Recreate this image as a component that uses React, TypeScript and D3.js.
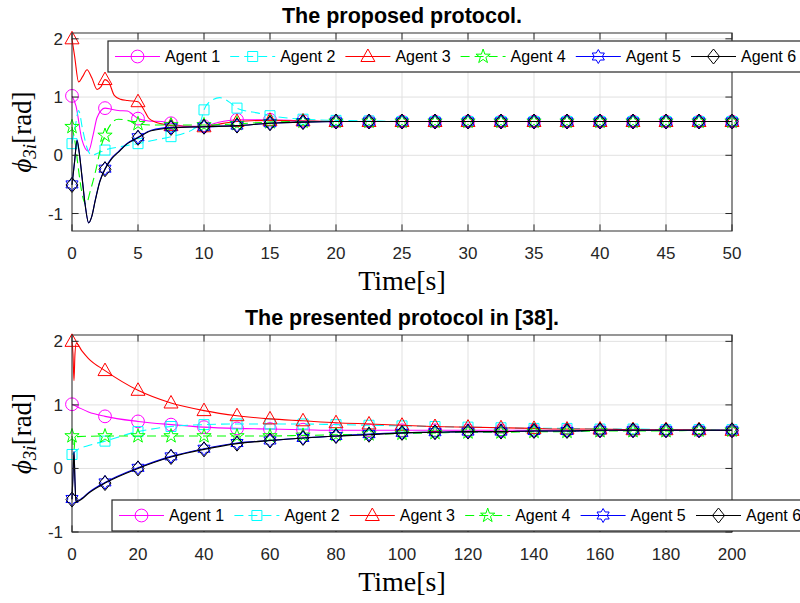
import React from 'react';
import * as d3 from 'd3';

type Pt = [number, number];

// ---- top panel: "The proposed protocol." (markers every 2.5 s)
const topT = [0, 2.5, 5, 7.5, 10, 12.5, 15, 17.5, 20, 22.5, 25, 27.5, 30, 32.5, 35, 37.5, 40, 42.5, 45, 47.5, 50];
const topA1 = [1.02, 0.81, 0.63, 0.55, 0.5, 0.61, 0.61, 0.59, 0.58, 0.58, 0.58, 0.58, 0.58, 0.58, 0.58, 0.58, 0.58, 0.58, 0.58, 0.58, 0.58];
const topA2 = [0.2, 0.09, 0.2, 0.32, 0.78, 0.81, 0.68, 0.62, 0.6, 0.59, 0.58, 0.58, 0.58, 0.58, 0.58, 0.58, 0.58, 0.58, 0.58, 0.58, 0.58];
const topA3 = [2.0, 1.3, 0.92, 0.51, 0.49, 0.58, 0.6, 0.59, 0.58, 0.58, 0.58, 0.58, 0.58, 0.58, 0.58, 0.58, 0.58, 0.58, 0.58, 0.58, 0.58];
const topA4 = [0.49, 0.34, 0.54, 0.52, 0.52, 0.54, 0.57, 0.58, 0.58, 0.58, 0.58, 0.58, 0.58, 0.58, 0.58, 0.58, 0.58, 0.58, 0.58, 0.58, 0.58];
const topA5 = [-0.5, -0.23, 0.31, 0.48, 0.49, 0.51, 0.55, 0.57, 0.58, 0.58, 0.58, 0.58, 0.58, 0.58, 0.58, 0.58, 0.58, 0.58, 0.58, 0.58, 0.58];
const topA6 = [-0.51, -0.24, 0.3, 0.47, 0.49, 0.51, 0.55, 0.57, 0.58, 0.58, 0.58, 0.58, 0.58, 0.58, 0.58, 0.58, 0.58, 0.58, 0.58, 0.58, 0.58];

// points in between the markers (transients)
const topA1Extra: Pt[] = [[0.3, 0.85], [0.75, 0.27], [1.25, 0.07], [1.6, 0.35], [1.9, 0.65], [3, 0.79], [3.5, 0.77], [4.2, 0.76], [4.6, 0.7], [5.8, 0.59], [6.8, 0.58], [8.5, 0.5], [11, 0.56]];
const topA2Extra: Pt[] = [[0.25, 0.5], [0.5, 0.77], [0.8, 0.45], [1.15, 0.12], [1.5, 0.0], [2, 0.04], [3.5, 0.14], [4.2, 0.17], [6, 0.25], [8.5, 0.38], [9.2, 0.45], [9.7, 0.55], [10.5, 0.93], [11.2, 0.99], [12, 0.9], [14.2, 0.72]];
const topA3Extra: Pt[] = [[0.2, 1.7], [0.5, 1.26], [0.8, 1.35], [1.14, 1.47], [1.5, 1.33], [1.9, 1.13], [2.2, 1.18], [2.8, 1.25], [3.2, 1.03], [3.7, 0.96], [4.2, 0.94], [5.4, 0.8], [5.8, 0.64], [6.3, 0.57], [6.8, 0.54], [8.5, 0.5], [11, 0.53]];
const topA4Extra: Pt[] = [[0.25, 0.2], [0.5, -0.26], [0.8, -0.7], [1.06, -0.84], [1.4, -0.6], [1.8, -0.26], [2.2, 0.15], [3, 0.55], [3.5, 0.62], [4.2, 0.6], [6, 0.52]];
const topA5Extra: Pt[] = [[0.2, -0.1], [0.38, 0.26], [0.55, 0.05], [0.76, -0.37], [1.0, -0.85], [1.26, -1.16], [1.5, -1.05], [1.76, -0.77], [2.1, -0.45], [3, -0.05], [3.5, 0.06], [4.2, 0.21], [6, 0.43]];
const topA6Extra: Pt[] = [[0.2, -0.1], [0.38, 0.25], [0.55, 0.04], [0.76, -0.38], [1.0, -0.86], [1.26, -1.16], [1.5, -1.05], [1.76, -0.78], [2.1, -0.46], [3, -0.06], [3.5, 0.05], [4.2, 0.2], [6, 0.42]];

// ---- bottom panel: "The presented protocol in [38]." (markers every 10 s)
const botT = [0, 10, 20, 30, 40, 50, 60, 70, 80, 90, 100, 110, 120, 130, 140, 150, 160, 170, 180, 190, 200];
const botA1 = [1.01, 0.82, 0.74, 0.69, 0.65, 0.63, 0.62, 0.61, 0.6, 0.6, 0.6, 0.6, 0.6, 0.6, 0.6, 0.6, 0.6, 0.6, 0.6, 0.6, 0.6];
const botA2 = [0.22, 0.43, 0.58, 0.66, 0.69, 0.7, 0.7, 0.7, 0.69, 0.68, 0.67, 0.66, 0.65, 0.64, 0.63, 0.63, 0.62, 0.62, 0.61, 0.61, 0.61];
const botA3 = [2.0, 1.54, 1.23, 1.03, 0.91, 0.83, 0.78, 0.75, 0.72, 0.7, 0.68, 0.66, 0.65, 0.64, 0.63, 0.62, 0.62, 0.61, 0.61, 0.61, 0.6];
const botA4 = [0.51, 0.51, 0.51, 0.51, 0.51, 0.51, 0.51, 0.52, 0.53, 0.54, 0.55, 0.56, 0.57, 0.57, 0.58, 0.58, 0.59, 0.59, 0.59, 0.6, 0.6];
const botA5 = [-0.48, -0.22, 0.01, 0.19, 0.31, 0.4, 0.44, 0.48, 0.51, 0.54, 0.56, 0.57, 0.58, 0.58, 0.59, 0.59, 0.6, 0.6, 0.6, 0.6, 0.6];
const botA6 = [-0.49, -0.23, 0.0, 0.18, 0.3, 0.39, 0.44, 0.48, 0.51, 0.53, 0.56, 0.57, 0.58, 0.58, 0.59, 0.59, 0.6, 0.6, 0.6, 0.6, 0.6];

const botA1Extra: Pt[] = [[2, 0.96], [5, 0.89]];
const botA2Extra: Pt[] = [[0.5, 0.24], [1.5, 0.29], [5, 0.36]];
const botA3Extra: Pt[] = [[0.3, 1.8], [0.6, 1.38], [0.9, 1.8], [1.3, 1.97], [3, 1.85], [5, 1.73]];
const botA4Extra: Pt[] = [[0.3, 0.4], [0.6, 0.3], [1, 0.5]];
const botA5Extra: Pt[] = [[0.3, -0.1], [0.6, 0.27], [0.9, -0.2], [1.2, -0.52], [3, -0.47], [5, -0.38]];
const botA6Extra: Pt[] = [[0.3, -0.1], [0.6, 0.26], [0.9, -0.2], [1.2, -0.53], [3, -0.48], [5, -0.39]];

const agentNames = ['Agent 1', 'Agent 2', 'Agent 3', 'Agent 4', 'Agent 5', 'Agent 6'];
const agentColors = ['#ff00ff', '#00ffff', '#ff0000', '#00ff00', '#0000ff', '#000000'];
const agentDashed = [false, true, false, true, false, false];
const agentMarkers = ['o', 's', '^', 'p', 'h', 'd'];

const topXTicks = [0, 5, 10, 15, 20, 25, 30, 35, 40, 45, 50];
const botXTicks = [0, 20, 40, 60, 80, 100, 120, 140, 160, 180, 200];
const yTicks = [-1, 0, 1, 2];

const FONT = "'Liberation Sans', Arial, Helvetica, sans-serif";
const SERIF = "'Liberation Serif', 'Times New Roman', serif";
const AXC = '#262626';

function starPath(n: number, R: number, r: number) {
  const pts: string[] = [];
  for (let k = 0; k < 2 * n; k++) {
    const a = -Math.PI / 2 + (k * Math.PI) / n;
    const rad = k % 2 === 0 ? R : r;
    pts.push(`${(rad * Math.cos(a)).toFixed(2)},${(rad * Math.sin(a)).toFixed(2)}`);
  }
  return 'M' + pts.join('L') + 'Z';
}

function markerPath(kind: string) {
  switch (kind) {
    case 'o':
      return 'M6.4,0A6.4,6.4 0 1,1 -6.4,0A6.4,6.4 0 1,1 6.4,0Z';
    case 's':
      return 'M-5,-5H5V5H-5Z';
    case '^':
      return 'M0,-7.5L7,5L-7,5Z';
    case 'p':
      return starPath(5, 7.5, 2.9);
    case 'h':
      return starPath(6, 7, 4.05);
    default:
      return 'M0,-7.5L6,0L0,7.5L-6,0Z';
  }
}

type Series = { marks: number[]; extra: Pt[] };

function Panel({
  top, bottom, xDomain, xTicks, yDomain, markT, series, title, legendX, legendY, legendStep,
}: {
  top: number; bottom: number; xDomain: [number, number]; xTicks: number[];
  yDomain: [number, number]; markT: number[]; series: Series[]; title: string;
  legendX: number; legendY: number; legendStep: number;
}) {
  const left = 72, right = 732;
  const x = d3.scaleLinear().domain(xDomain).range([left, right]);
  const y = d3.scaleLinear().domain(yDomain).range([bottom, top]);
  const line = d3.line<Pt>().x(d => x(d[0])).y(d => y(d[1])).curve(d3.curveMonotoneX);
  const tl = 6.6;

  return (
    <g>
      {/* grid */}
      {xTicks.map(t => (
        <line key={'gx' + t} x1={x(t)} x2={x(t)} y1={top} y2={bottom} stroke="#e1e1e1" />
      ))}
      {yTicks.map(t => (
        <line key={'gy' + t} x1={left} x2={right} y1={y(t)} y2={y(t)} stroke="#e1e1e1" />
      ))}

      {/* data */}
      {series.map((s, i) => {
        const pts: Pt[] = markT.map((t, j) => [t, s.marks[j]] as Pt).concat(s.extra).sort((a, b) => a[0] - b[0]);
        return (
          <g key={'s' + i}>
            <path d={line(pts) || ''} fill="none" stroke={agentColors[i]} strokeWidth={1.1}
              strokeDasharray={agentDashed[i] ? '9,5' : undefined} />
            {markT.map((t, j) => (
              <path key={j} d={markerPath(agentMarkers[i])}
                transform={`translate(${x(t)},${y(s.marks[j])})`}
                fill="none" stroke={agentColors[i]} strokeWidth={1} />
            ))}
          </g>
        );
      })}

      {/* box + ticks */}
      <rect x={left} y={top} width={right - left} height={bottom - top} fill="none" stroke={AXC} strokeWidth={1.2} opacity={0.8} />
      {xTicks.map(t => (
        <g key={'tx' + t}>
          <line x1={x(t)} x2={x(t)} y1={bottom} y2={bottom - tl} stroke={AXC} />
          <line x1={x(t)} x2={x(t)} y1={top} y2={top + tl} stroke={AXC} />
          <text x={x(t)} y={bottom + 28} textAnchor="middle" fontFamily={FONT} fontSize={17} fill={AXC}>{t}</text>
        </g>
      ))}
      {yTicks.map(t => (
        <g key={'ty' + t}>
          <line x1={left} x2={left + tl} y1={y(t)} y2={y(t)} stroke={AXC} />
          <line x1={right} x2={right - tl} y1={y(t)} y2={y(t)} stroke={AXC} />
          <text x={left - 9} y={y(t) + 6} textAnchor="end" fontFamily={FONT} fontSize={17} fill={AXC}>{t === -1 ? '-1' : t}</text>
        </g>
      ))}

      {/* labels */}
      <text x={(left + right) / 2} y={top - 10} textAnchor="middle" fontFamily={FONT} fontWeight="bold" fontSize={21.5} fill="#000">{title}</text>
      <text x={(left + right) / 2} y={bottom + 59} textAnchor="middle" fontFamily={SERIF} fontSize={28} fill="#000">Time[s]</text>
      <text transform={`translate(31,${(top + bottom) / 2}) rotate(-90)`} textAnchor="middle" fontFamily={SERIF} fontSize={27} fill="#000">
        <tspan fontStyle="italic">ϕ</tspan>
        <tspan fontStyle="italic" fontSize={19} dy={5}>3i</tspan>
        <tspan dy={-5}>[rad]</tspan>
      </text>

      {/* legend */}
      <rect x={legendX} y={legendY} width={720} height={31} fill="#fff" stroke={AXC} strokeWidth={1.2} opacity={1} />
      {agentNames.map((n, i) => {
        const lx = legendX + 7 + i * legendStep;
        const cy = legendY + 15.5;
        return (
          <g key={'lg' + i}>
            <line x1={lx} x2={lx + 45} y1={cy} y2={cy} stroke={agentColors[i]} strokeWidth={1}
              strokeDasharray={agentDashed[i] ? '9,5' : undefined} />
            <path d={markerPath(agentMarkers[i])} transform={`translate(${lx + 22.5},${cy})`} fill="none" stroke={agentColors[i]} />
            <text x={lx + 50} y={cy + 5.5} fontFamily={FONT} fontSize={16} fill="#000">{n}</text>
          </g>
        );
      })}
    </g>
  );
}

export default function App() {
  const topSeries: Series[] = [
    { marks: topA1, extra: topA1Extra },
    { marks: topA2, extra: topA2Extra },
    { marks: topA3, extra: topA3Extra },
    { marks: topA4, extra: topA4Extra },
    { marks: topA5, extra: topA5Extra },
    { marks: topA6, extra: topA6Extra },
  ];
  const botSeries: Series[] = [
    { marks: botA1, extra: botA1Extra },
    { marks: botA2, extra: botA2Extra },
    { marks: botA3, extra: botA3Extra },
    { marks: botA4, extra: botA4Extra },
    { marks: botA5, extra: botA5Extra },
    { marks: botA6, extra: botA6Extra },
  ];

  return (
    <div style={{ position: 'absolute', left: 0, top: 0, width: 800, height: 603, background: '#fff' }}>
      <svg width={800} height={603} style={{ display: 'block' }}>
        <rect width={800} height={603} fill="#fff" />
        <Panel top={33} bottom={231} xDomain={[0, 50]} xTicks={topXTicks} yDomain={[-1.3, 2.1]}
          markT={topT} series={topSeries} title="The proposed protocol."
          legendX={108} legendY={41} legendStep={115.2} />
        <Panel top={335} bottom={532} xDomain={[0, 200]} xTicks={botXTicks} yDomain={[-1, 2.1]}
          markT={botT} series={botSeries} title="The presented protocol in [38]."
          legendX={112} legendY={500} legendStep={115.4} />
      </svg>
    </div>
  );
}
